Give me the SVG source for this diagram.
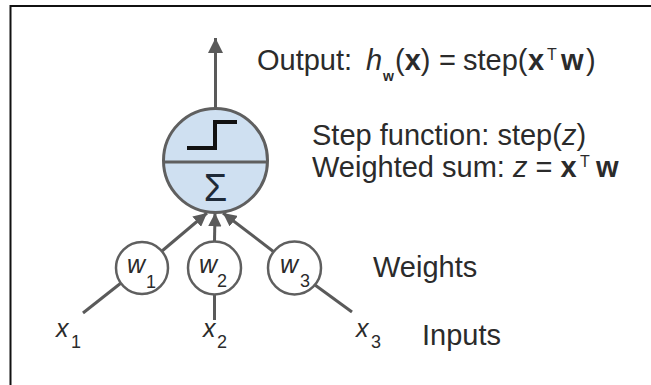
<svg xmlns="http://www.w3.org/2000/svg" width="651" height="385" viewBox="0 0 651 385">
<style>
.t{font-family:"Liberation Sans",Arial,sans-serif;fill:#2b2b2b;font-size:29px}
.i{font-style:italic}
.b{font-weight:bold}
.wl{font-family:"Liberation Sans",Arial,sans-serif;fill:#2b2b2b;font-size:25px;font-style:italic}
.sub{font-family:"Liberation Sans",Arial,sans-serif;fill:#2b2b2b;font-size:18px}
.conn{stroke:#5a5a5a;stroke-width:3;fill:none}
.wc{fill:#fff;stroke:#5f5f5f;stroke-width:2.5}
</style>
<defs>
<marker id="ah" viewBox="0 0 10 10" refX="10" refY="5" markerWidth="4.5" markerHeight="4.5" orient="auto" markerUnits="strokeWidth">
<path d="M0,0 L10,5 L0,10 z" fill="#5a5a5a"/>
</marker>
<marker id="ahb" viewBox="0 0 10 10" refX="10" refY="5" markerWidth="7" markerHeight="5" orient="auto" markerUnits="strokeWidth">
<path d="M0,0 L10,5 L0,10 z" fill="#5a5a5a"/>
</marker>
</defs>
<rect width="651" height="385" fill="#fff"/>
<path d="M10.5,385 V6 H651" fill="none" stroke="#111" stroke-width="2"/>

<g id="connectors">
<line class="conn" x1="215.5" y1="108" x2="215.5" y2="38" marker-end="url(#ahb)"/>
<line class="conn" x1="162" y1="251" x2="207" y2="213" marker-end="url(#ah)"/>
<line class="conn" x1="214.5" y1="241" x2="215" y2="213" marker-end="url(#ah)"/>
<line class="conn" x1="274" y1="252" x2="223" y2="213" marker-end="url(#ah)"/>
<line class="conn" x1="121" y1="283" x2="83" y2="313"/>
<line class="conn" x1="214.5" y1="295" x2="214.5" y2="320"/>
<line class="conn" x1="315" y1="285" x2="352" y2="312"/>
</g>

<g id="neuron">
<circle cx="215.5" cy="160.5" r="52" fill="#cfe0f1" stroke="#5f5f5f" stroke-width="3"/>
<line x1="163.5" y1="162" x2="267.5" y2="162" stroke="#5f5f5f" stroke-width="3"/>
<path d="M187,148 H215 V122 H237" fill="none" stroke="#111" stroke-width="4"/>
<text x="215.5" y="201" text-anchor="middle" style="font-family:'Liberation Sans',Arial,sans-serif;font-size:38px;fill:#1e2a38">Σ</text>
</g>

<g id="w1">
<circle class="wc" cx="142" cy="268" r="26"/>
<text class="wl" x="127" y="273">w</text><text class="sub" x="146" y="288">1</text>
</g>
<g id="w2">
<circle class="wc" cx="214.5" cy="268" r="26.5"/>
<text class="wl" x="199" y="273">w</text><text class="sub" x="217" y="287">2</text>
</g>
<g id="w3">
<circle class="wc" cx="294.5" cy="268" r="26.5"/>
<text class="wl" x="280" y="273">w</text><text class="sub" x="300" y="287">3</text>
</g>

<g id="x1"><text class="wl" x="56" y="337">x</text><text class="sub" x="71" y="348">1</text></g>
<g id="x2"><text class="wl" x="203" y="337">x</text><text class="sub" x="217" y="348">2</text></g>
<g id="x3"><text class="wl" x="356" y="337">x</text><text class="sub" x="371" y="348">3</text></g>

<g id="labels">
<text class="t" x="257" y="70">Output:</text>
<text class="t i" x="366" y="70">h</text>
<text class="t b" x="383" y="81" style="font-size:14px">w</text>
<text class="t" x="395" y="70">(<tspan class="b">x</tspan>)</text>
<text class="t" x="439" y="70">=</text>
<text class="t" x="463" y="70">step(</text>
<text class="t b" x="528" y="70">x</text>
<text class="t" x="547" y="60" style="font-size:16px">T</text>
<text class="t b" x="561" y="70">w</text>
<text class="t" x="586" y="70">)</text>

<text class="t" x="312" y="145">Step function: step(<tspan class="i">z</tspan>)</text>
<text class="t" x="312" y="177">Weighted sum: <tspan class="i">z</tspan> = <tspan class="b">x</tspan></text>
<text class="t" x="580" y="167" style="font-size:16px">T</text>
<text class="t b" x="596" y="177">w</text>

<text class="t" x="373" y="277">Weights</text>
<text class="t" x="422" y="345">Inputs</text>
</g>
</svg>
